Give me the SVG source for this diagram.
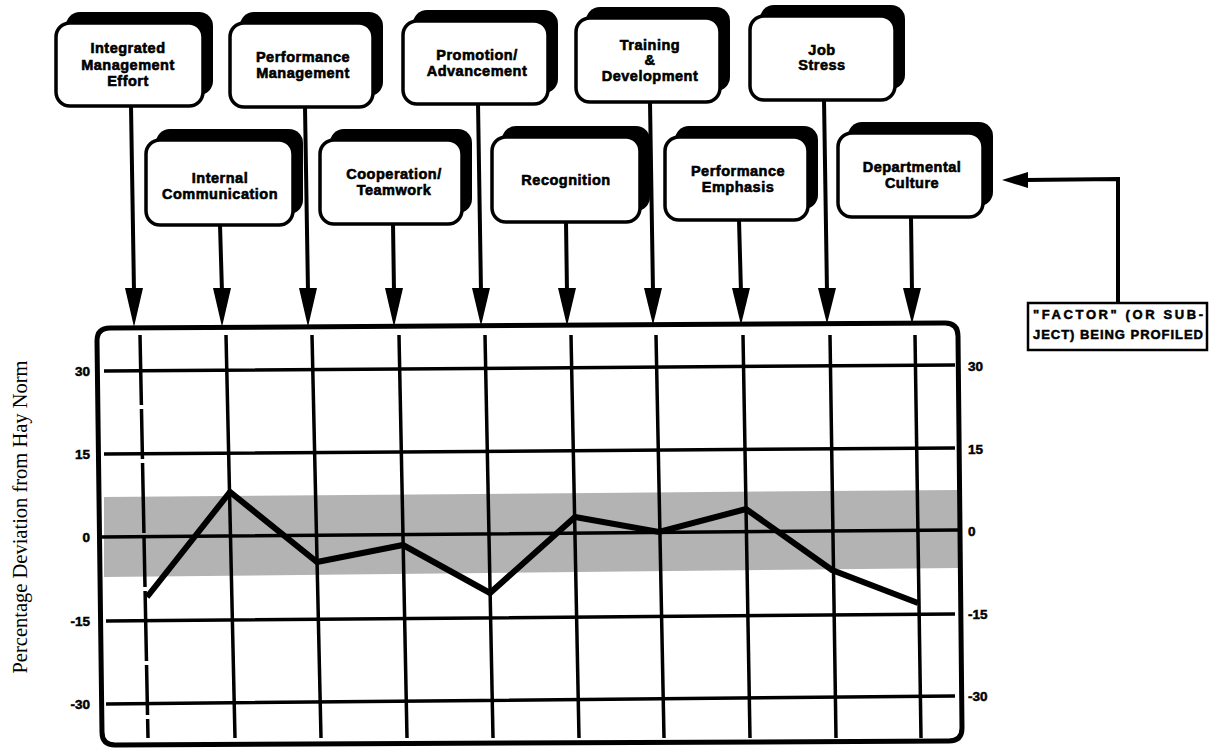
<svg xmlns="http://www.w3.org/2000/svg" width="1213" height="748" viewBox="0 0 1213 748">
<style>
.shadow{fill:#000}
.box{fill:#fff;stroke:#000;stroke-width:3.5}
.lbl{font-family:"Liberation Sans",Arial,sans-serif;font-weight:bold;font-size:14.5px;letter-spacing:0.5px;text-anchor:middle;fill:#000;stroke:#000;stroke-width:0.6}
.ax{font-family:"Liberation Sans",Arial,sans-serif;font-weight:bold;font-size:13.5px;fill:#000;stroke:#000;stroke-width:0.5}
.axl{text-anchor:end}
.conn{stroke:#000;stroke-width:4;fill:none}
.grid{stroke:#000;stroke-width:3.5;fill:none}
.vline{stroke:#000;stroke-width:3.5;fill:none}
.head{fill:#000}
.fbox{fill:#fff;stroke:#000;stroke-width:2.5}
.flbl{font-family:"Liberation Sans",Arial,sans-serif;font-weight:bold;font-size:13px;fill:#000;stroke:#000;stroke-width:0.5}
</style>

<g id="chart">
  <polygon points="104,497 958,490 958,568 104,577" fill="#b3b3b3"/>
  <path class="grid" d="M104,371 L955,365 M104,454 L955,448 M100,537 L958,530 M106,621 L955,614 M106,704 L955,696"/>
  <g class="vline">
    <line x1="140" y1="335" x2="148" y2="738" stroke-dasharray="70 4 50 4"/>
    <line x1="226" y1="335" x2="235" y2="738"/>
    <line x1="312" y1="335" x2="321" y2="738"/>
    <line x1="399" y1="335" x2="407" y2="738"/>
    <line x1="485" y1="335" x2="493" y2="738"/>
    <line x1="571" y1="335" x2="579" y2="738"/>
    <line x1="656" y1="335" x2="664" y2="738"/>
    <line x1="743" y1="335" x2="750" y2="738"/>
    <line x1="830" y1="335" x2="836" y2="738"/>
    <line x1="915" y1="335" x2="921" y2="738"/>
  </g>
  <polyline points="147,597 230,492 317,562 403,545 490,593 575,517 659,532 746,509 832,570 918,603" fill="none" stroke="#000" stroke-width="6" stroke-linejoin="miter"/>
  <path d="M97,341 Q97,328 110,328 L945,323 Q958,323 958,336 L962,728 Q962,741 949,741 L115,745 Q102,745 102,732 Z" fill="none" stroke="#000" stroke-width="5"/>
  <g class="ax axl">
    <text x="90" y="376">30</text>
    <text x="90" y="459">15</text>
    <text x="90" y="542">0</text>
    <text x="90" y="626">-15</text>
    <text x="90" y="709">-30</text>
  </g>
  <g class="ax">
    <text x="968" y="371">30</text>
    <text x="968" y="454">15</text>
    <text x="968" y="536">0</text>
    <text x="968" y="619">-15</text>
    <text x="968" y="701">-30</text>
  </g>
  <text transform="translate(27,517) rotate(-90)" text-anchor="middle" font-family="'Liberation Serif','Times New Roman',serif" font-size="20.5" fill="#000">Percentage Deviation from Hay Norm</text>
</g>

<g id="connectors">
  <path class="conn" d="M131,106 L134,292 M220,225 L222,292 M305,107 L308,292 M393,223 L394,292 M478,103 L481,292 M566,222 L567,292 M650,102 L653,292 M739,220 L741,292 M824,99 L827,292 M911,217 L912,292"/>
  <g class="head">
    <polygon points="125,288 143,288 134,327"/>
    <polygon points="213,288 231,288 222,327"/>
    <polygon points="299,288 317,288 308,327"/>
    <polygon points="385,288 403,288 394,327"/>
    <polygon points="472,288 490,288 481,326"/>
    <polygon points="558,288 576,288 567,326"/>
    <polygon points="644,288 662,288 653,325"/>
    <polygon points="732,288 750,288 741,325"/>
    <polygon points="818,288 836,288 827,324"/>
    <polygon points="903,288 921,288 912,324"/>
  </g>
  <path class="conn" stroke-width="3" d="M1118,303 L1118,179 L1025,180"/>
  <polygon class="head" points="1002,180 1028,172 1028,188"/>
</g>

<g id="n1"><rect class="shadow" x="66" y="12" width="147" height="83" rx="14"/><rect class="box" x="56" y="23" width="147" height="83" rx="14"/>
<text class="lbl" x="128" y="53">Integrated</text><text class="lbl" x="128" y="70">Management</text><text class="lbl" x="128" y="86">Effort</text></g>
<g id="n2"><rect class="shadow" x="156" y="129" width="147" height="85" rx="14"/><rect class="box" x="146" y="140" width="147" height="85" rx="14"/>
<text class="lbl" x="220" y="183">Internal</text><text class="lbl" x="220" y="199">Communication</text></g>
<g id="n3"><rect class="shadow" x="240" y="12" width="143" height="84" rx="14"/><rect class="box" x="230" y="23" width="143" height="84" rx="14"/>
<text class="lbl" x="303" y="62">Performance</text><text class="lbl" x="303" y="78">Management</text></g>
<g id="n4"><rect class="shadow" x="330" y="129" width="142" height="84" rx="14"/><rect class="box" x="320" y="140" width="142" height="84" rx="14"/>
<text class="lbl" x="394" y="179">Cooperation/</text><text class="lbl" x="394" y="195">Teamwork</text></g>
<g id="n5"><rect class="shadow" x="413" y="10" width="145" height="83" rx="14"/><rect class="box" x="403" y="21" width="145" height="83" rx="14"/>
<text class="lbl" x="477" y="60">Promotion/</text><text class="lbl" x="477" y="76">Advancement</text></g>
<g id="n6"><rect class="shadow" x="502" y="126" width="148" height="85" rx="14"/><rect class="box" x="492" y="137" width="148" height="85" rx="14"/>
<text class="lbl" x="566" y="185">Recognition</text></g>
<g id="n7"><rect class="shadow" x="586" y="7" width="144" height="84" rx="14"/><rect class="box" x="576" y="18" width="144" height="84" rx="14"/>
<text class="lbl" x="650" y="50">Training</text><text class="lbl" x="650" y="65">&amp;</text><text class="lbl" x="650" y="81">Development</text></g>
<g id="n8"><rect class="shadow" x="675" y="126" width="143" height="83" rx="14"/><rect class="box" x="665" y="137" width="143" height="83" rx="14"/>
<text class="lbl" x="738" y="176">Performance</text><text class="lbl" x="738" y="192">Emphasis</text></g>
<g id="n9"><rect class="shadow" x="760" y="5" width="145" height="84" rx="14"/><rect class="box" x="750" y="16" width="145" height="84" rx="14"/>
<text class="lbl" x="822" y="55">Job</text><text class="lbl" x="822" y="70">Stress</text></g>
<g id="n10"><rect class="shadow" x="848" y="122" width="145" height="84" rx="14"/><rect class="box" x="838" y="133" width="145" height="84" rx="14"/>
<text class="lbl" x="912" y="172">Departmental</text><text class="lbl" x="912" y="188">Culture</text></g>

<g id="factor"><rect class="fbox" x="1028" y="303" width="179" height="47"/>
<text class="flbl" x="1033" y="319" textLength="170" lengthAdjust="spacing">"FACTOR" (OR SUB-</text>
<text class="flbl" x="1033" y="339" textLength="170" lengthAdjust="spacing">JECT) BEING PROFILED</text></g>
</svg>
